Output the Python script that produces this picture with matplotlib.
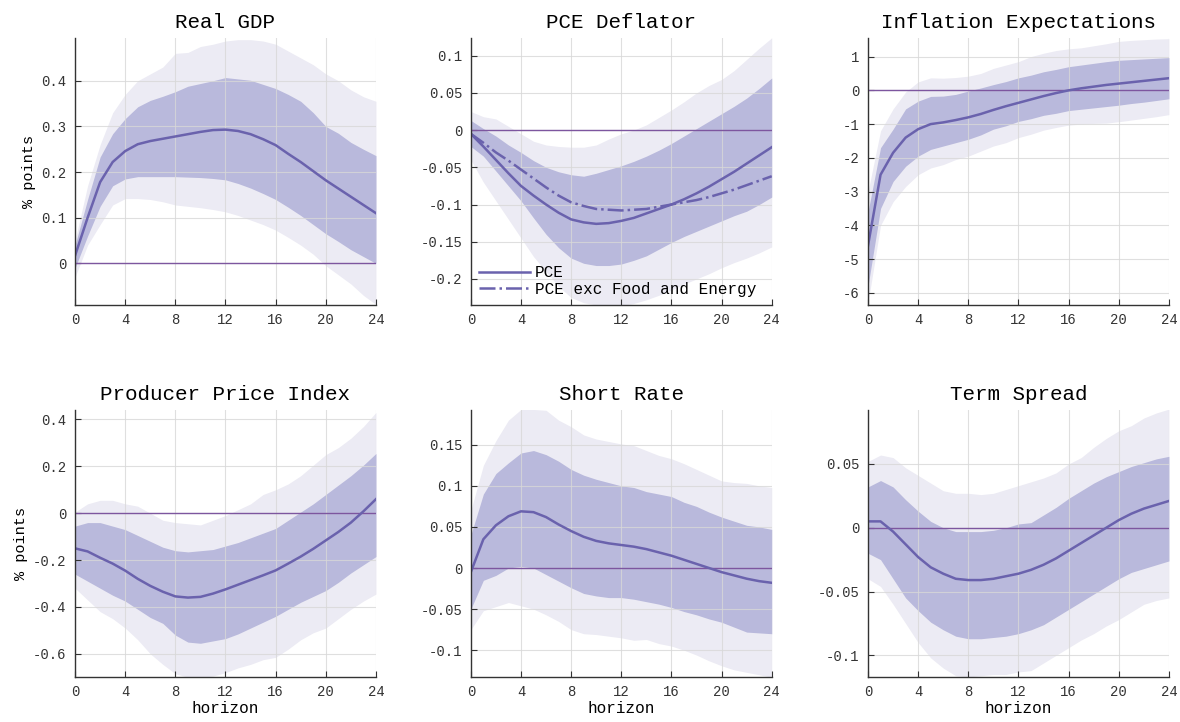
import numpy as np
import matplotlib
matplotlib.use('Agg')
import matplotlib.pyplot as plt
from matplotlib import ticker

plt.rcParams['font.family'] = ['Liberation Mono', 'DejaVu Sans Mono']

h = np.arange(25)

# Real GDP
gdp_med = [0.017, 0.10, 0.178, 0.222, 0.246, 0.261, 0.268, 0.273, 0.278, 0.283, 0.288, 0.292, 0.293,
           0.290, 0.283, 0.272, 0.259, 0.240, 0.222, 0.202, 0.182, 0.164, 0.146, 0.128, 0.11]
gdp_hi68 = [0.04, 0.14, 0.233, 0.284, 0.317, 0.343, 0.357, 0.366, 0.376, 0.388, 0.394, 0.400, 0.407,
            0.404, 0.401, 0.392, 0.383, 0.370, 0.355, 0.33, 0.30, 0.285, 0.265, 0.25, 0.236]
gdp_lo68 = [-0.01, 0.06, 0.125, 0.17, 0.185, 0.19, 0.19, 0.19, 0.19, 0.189, 0.188, 0.186, 0.183,
            0.175, 0.165, 0.153, 0.14, 0.123, 0.105, 0.085, 0.065, 0.048, 0.03, 0.015, 0.0]
gdp_hi90 = [0.05, 0.17, 0.26, 0.33, 0.37, 0.40, 0.415, 0.43, 0.46, 0.462, 0.475, 0.48, 0.487,
            0.49, 0.49, 0.487, 0.48, 0.465, 0.45, 0.435, 0.415, 0.40, 0.38, 0.365, 0.355]
gdp_lo90 = [-0.03, 0.04, 0.085, 0.128, 0.142, 0.142, 0.14, 0.135, 0.128, 0.125, 0.122, 0.118, 0.113,
            0.105, 0.095, 0.085, 0.073, 0.057, 0.04, 0.02, -0.005, -0.025, -0.045, -0.07, -0.09]

# PCE Deflator
pce_med = [-0.005, -0.022, -0.04, -0.058, -0.075, -0.088, -0.10, -0.111, -0.12, -0.124, -0.126, -0.125, -0.122,
           -0.118, -0.112, -0.106, -0.10, -0.093, -0.085, -0.076, -0.066, -0.056, -0.045, -0.034, -0.023]
core_med = [-0.005, -0.017, -0.03, -0.041, -0.053, -0.065, -0.077, -0.088, -0.097, -0.102, -0.106, -0.107, -0.108,
            -0.107, -0.106, -0.103, -0.10, -0.097, -0.094, -0.09, -0.085, -0.08, -0.074, -0.068, -0.062]
pce_hi68 = [0.013, 0.002, -0.008, -0.02, -0.03, -0.041, -0.05, -0.056, -0.06, -0.062, -0.058, -0.053, -0.048,
            -0.042, -0.035, -0.027, -0.018, -0.008, 0.002, 0.012, 0.022, 0.032, 0.043, 0.056, 0.07]
pce_lo68 = [-0.022, -0.035, -0.055, -0.075, -0.095, -0.118, -0.14, -0.158, -0.172, -0.179, -0.182, -0.182, -0.18,
            -0.175, -0.169, -0.16, -0.151, -0.143, -0.136, -0.129, -0.122, -0.115, -0.109, -0.1, -0.09]
pce_hi90 = [0.025, 0.018, 0.015, 0.005, -0.005, -0.015, -0.02, -0.022, -0.023, -0.023, -0.02, -0.012, -0.005,
            0.0, 0.007, 0.017, 0.027, 0.038, 0.05, 0.06, 0.068, 0.08, 0.095, 0.11, 0.124]
pce_lo90 = [-0.04, -0.07, -0.095, -0.12, -0.145, -0.17, -0.19, -0.21, -0.225, -0.232, -0.235, -0.236, -0.236,
            -0.233, -0.228, -0.222, -0.215, -0.207, -0.2, -0.193, -0.185, -0.178, -0.172, -0.165, -0.157]

# Inflation Expectations
ie_med = [-4.6, -2.5, -1.85, -1.4, -1.15, -1.0, -0.95, -0.88, -0.8, -0.7, -0.58, -0.47, -0.37,
          -0.27, -0.17, -0.08, 0.0, 0.06, 0.11, 0.16, 0.20, 0.24, 0.28, 0.32, 0.36]
ie_hi68 = [-3.6, -1.7, -1.15, -0.55, -0.32, -0.18, -0.17, -0.12, -0.02, 0.07, 0.17, 0.26, 0.37,
           0.45, 0.55, 0.62, 0.7, 0.75, 0.8, 0.85, 0.89, 0.91, 0.93, 0.95, 0.97]
ie_lo68 = [-5.8, -3.5, -2.7, -2.25, -1.95, -1.75, -1.65, -1.55, -1.45, -1.32, -1.15, -1.05, -0.92,
           -0.84, -0.74, -0.68, -0.6, -0.56, -0.52, -0.48, -0.44, -0.39, -0.35, -0.3, -0.25]
ie_hi90 = [-3.0, -1.2, -0.55, -0.05, 0.25, 0.37, 0.36, 0.38, 0.42, 0.5, 0.65, 0.75, 0.85,
           1.0, 1.1, 1.18, 1.23, 1.26, 1.32, 1.38, 1.45, 1.48, 1.5, 1.52, 1.53]
ie_lo90 = [-6.3, -4.0, -3.3, -2.85, -2.5, -2.3, -2.2, -2.05, -1.95, -1.8, -1.65, -1.55, -1.4,
           -1.3, -1.18, -1.1, -1.03, -1.0, -0.98, -0.97, -0.93, -0.88, -0.83, -0.78, -0.72]

# Producer Price Index
ppi_med = [-0.15, -0.163, -0.19, -0.215, -0.245, -0.28, -0.31, -0.335, -0.355, -0.36, -0.357, -0.343, -0.325,
           -0.305, -0.285, -0.265, -0.244, -0.215, -0.185, -0.152, -0.116, -0.08, -0.04, 0.008, 0.06]
ppi_hi68 = [-0.055, -0.04, -0.04, -0.055, -0.07, -0.095, -0.12, -0.145, -0.16, -0.165, -0.16, -0.155, -0.14,
            -0.125, -0.105, -0.085, -0.065, -0.03, 0.005, 0.04, 0.08, 0.12, 0.16, 0.205, 0.255]
ppi_lo68 = [-0.26, -0.29, -0.32, -0.35, -0.375, -0.41, -0.445, -0.47, -0.52, -0.55, -0.555, -0.545, -0.535,
            -0.515, -0.49, -0.465, -0.44, -0.41, -0.38, -0.355, -0.33, -0.295, -0.255, -0.22, -0.185]
ppi_hi90 = [0.005, 0.04, 0.055, 0.055, 0.04, 0.03, 0.0, -0.03, -0.04, -0.045, -0.05, -0.03, -0.01,
            0.015, 0.04, 0.08, 0.1, 0.125, 0.16, 0.205, 0.25, 0.28, 0.32, 0.37, 0.43]
ppi_lo90 = [-0.32, -0.37, -0.42, -0.45, -0.49, -0.54, -0.6, -0.645, -0.685, -0.7, -0.7, -0.695, -0.68,
            -0.66, -0.645, -0.625, -0.615, -0.58, -0.54, -0.51, -0.49, -0.45, -0.41, -0.375, -0.345]

# Short Rate
sr_med = [-0.005, 0.035, 0.052, 0.063, 0.069, 0.068, 0.062, 0.053, 0.045, 0.038, 0.033, 0.030, 0.028,
          0.026, 0.023, 0.019, 0.015, 0.010, 0.005, 0.0, -0.005, -0.009, -0.013, -0.016, -0.018]
sr_hi68 = [0.04, 0.09, 0.115, 0.128, 0.14, 0.143, 0.138, 0.13, 0.12, 0.113, 0.108, 0.104, 0.1,
           0.098, 0.093, 0.09, 0.087, 0.08, 0.075, 0.068, 0.062, 0.057, 0.052, 0.05, 0.047]
sr_lo68 = [-0.05, -0.015, -0.009, 0.0, 0.002, 0.0, -0.008, -0.016, -0.024, -0.031, -0.034, -0.036, -0.036,
           -0.038, -0.041, -0.044, -0.048, -0.053, -0.057, -0.062, -0.066, -0.072, -0.078, -0.079, -0.08]
sr_hi90 = [0.07, 0.125, 0.155, 0.18, 0.193, 0.193, 0.192, 0.18, 0.172, 0.162, 0.157, 0.154, 0.151,
           0.149, 0.143, 0.137, 0.133, 0.127, 0.12, 0.113, 0.106, 0.104, 0.103, 0.1, 0.098]
sr_lo90 = [-0.075, -0.052, -0.047, -0.042, -0.046, -0.05, -0.057, -0.065, -0.075, -0.08, -0.081, -0.083, -0.085,
           -0.088, -0.087, -0.092, -0.095, -0.1, -0.106, -0.113, -0.119, -0.124, -0.127, -0.13, -0.133]

# Term Spread
ts_med = [0.005, 0.005, -0.003, -0.013, -0.023, -0.031, -0.036, -0.04, -0.041, -0.041, -0.04, -0.038, -0.036,
          -0.033, -0.029, -0.024, -0.018, -0.012, -0.006, 0.0, 0.006, 0.011, 0.015, 0.018, 0.021]
ts_hi68 = [0.032, 0.037, 0.032, 0.022, 0.013, 0.005, 0.0, -0.003, -0.003, -0.003, -0.002, 0.0, 0.003,
           0.004, 0.01, 0.016, 0.023, 0.029, 0.035, 0.04, 0.044, 0.048, 0.051, 0.054, 0.056]
ts_lo68 = [-0.02, -0.025, -0.04, -0.055, -0.065, -0.074, -0.08, -0.085, -0.087, -0.087, -0.086, -0.085, -0.083,
           -0.08, -0.076, -0.07, -0.064, -0.058, -0.052, -0.046, -0.04, -0.035, -0.032, -0.029, -0.026]
ts_hi90 = [0.052, 0.057, 0.055, 0.047, 0.041, 0.035, 0.029, 0.027, 0.027, 0.026, 0.027, 0.03, 0.033,
           0.036, 0.039, 0.043, 0.05, 0.055, 0.063, 0.07, 0.076, 0.08, 0.086, 0.09, 0.093]
ts_lo90 = [-0.04, -0.046, -0.06, -0.075, -0.09, -0.102, -0.11, -0.116, -0.117, -0.116, -0.115, -0.115, -0.113,
           -0.112, -0.106, -0.1, -0.094, -0.088, -0.083, -0.077, -0.072, -0.066, -0.06, -0.057, -0.055]

panels = [
    ('Real GDP', gdp_med, gdp_lo68, gdp_hi68, gdp_lo90, gdp_hi90, (-0.091, 0.494), 0.1),
    ('PCE Deflator', pce_med, pce_lo68, pce_hi68, pce_lo90, pce_hi90, (-0.235, 0.124), 0.05),
    ('Inflation Expectations', ie_med, ie_lo68, ie_hi68, ie_lo90, ie_hi90, (-6.36, 1.556), 1),
    ('Producer Price Index', ppi_med, ppi_lo68, ppi_hi68, ppi_lo90, ppi_hi90, (-0.699, 0.441), 0.2),
    ('Short Rate', sr_med, sr_lo68, sr_hi68, sr_lo90, sr_hi90, (-0.1327, 0.1925), 0.05),
    ('Term Spread', ts_med, ts_lo68, ts_hi68, ts_lo90, ts_hi90, (-0.117, 0.0924), 0.05),
]

line_col = '#6a62ad'
dark_band = '#b9b9dc'
light_band = '#ecebf4'
zero_col = '#7d569f'

fig = plt.figure(figsize=(11.8, 7.22), dpi=100)
lefts = [0.0636, 0.399, 0.7356]
bottoms = [0.5776, 0.0623]

for i, (title, med, lo68, hi68, lo90, hi90, ylim, step) in enumerate(panels):
    r, c = divmod(i, 3)
    ax = fig.add_axes([lefts[c], bottoms[r], 0.255, 0.370])
    ax.fill_between(h, lo90, hi90, color=light_band, lw=0, zorder=1)
    ax.fill_between(h, lo68, hi68, color=dark_band, lw=0, zorder=1.5)
    ax.axhline(0, color=zero_col, lw=1.0, zorder=2.8)
    if title == 'PCE Deflator':
        ax.plot(h, pce_med, color=line_col, lw=1.8, zorder=3, label='PCE')
        ax.plot(h, core_med, color=line_col, lw=1.8, ls='-.', zorder=3, label='PCE exc Food and Energy')
        ax.legend(loc='lower left', frameon=False, fontsize=11.5, handlelength=3.2,
                  borderaxespad=0.1, labelspacing=0.1, handletextpad=0.3)
    else:
        ax.plot(h, med, color=line_col, lw=1.8, zorder=3)
    ax.set_xlim(0, 24)
    ax.set_ylim(*ylim)
    ax.set_xticks(range(0, 25, 4))
    ax.yaxis.set_major_locator(ticker.MultipleLocator(step))
    ax.yaxis.set_major_formatter(ticker.FuncFormatter(lambda v, p: '%g' % round(v, 4)))
    ax.grid(True, color='#d8d8d8', lw=0.8, alpha=0.8)
    ax.set_axisbelow(False)
    for g in ax.get_xgridlines() + ax.get_ygridlines():
        g.set_zorder(2.5)
    for s in ['top', 'right']:
        ax.spines[s].set_visible(False)
    for s in ['left', 'bottom']:
        ax.spines[s].set_color('#333333')
        ax.spines[s].set_linewidth(1.0)
        ax.spines[s].set_zorder(4)
    ax.tick_params(direction='in', length=4, labelsize=10, colors='#333333', pad=6)
    ax.set_title(title, fontsize=15, pad=7)
    if c == 0:
        ax.set_ylabel('% points', fontsize=11)
    if r == 1:
        ax.set_xlabel('horizon', fontsize=11.5, labelpad=1)

fig.savefig('out.png', dpi=100)
